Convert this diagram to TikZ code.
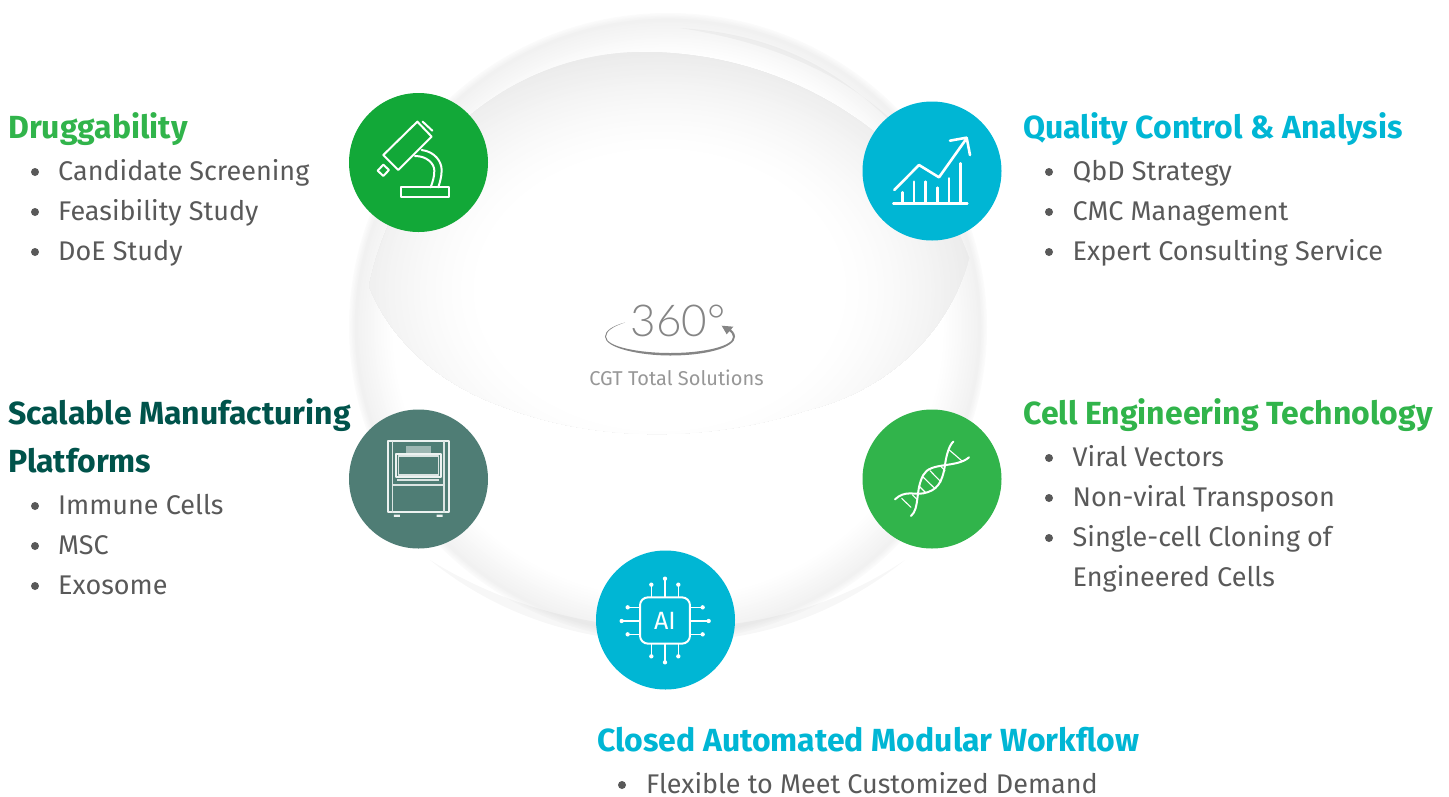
\documentclass[tikz,border=0pt]{standalone}
\usepackage{fontspec}
\setmainfont{Fira Sans}
\newfontfamily\thinfont{Lato Light}
\usetikzlibrary{calc}
\definecolor{grnA}{HTML}{12A838}
\definecolor{grnB}{HTML}{31B44B}
\definecolor{bluA}{HTML}{00B6D4}
\definecolor{tealA}{HTML}{4F7D75}
\definecolor{headT}{HTML}{00534B}
\definecolor{bodyT}{HTML}{595959}
\definecolor{grayT}{HTML}{858585}
\tikzset{
  iconcircle/.style={circle,minimum size=139pt,inner sep=0pt,draw=none},
  iconline/.style={draw=white,line width=2pt,line join=round,line cap=round},
  headtext/.style={anchor=base west,inner sep=0pt,font=\fontsize{32}{32}\selectfont\bfseries},
  itemtext/.style={anchor=base west,inner sep=0pt,text=bodyT,text depth=0pt,font=\fontsize{27}{27}\selectfont},
  dotmark/.style={fill=bodyT},
}
\begin{document}
\begin{tikzpicture}[x=1pt,y=-1pt]
\useasboundingbox (0,0) rectangle (1449,796);
% sphere rim: stacked ellipses from the edge inward
\foreach \tt in {0,...,30}{
  \pgfmathsetmacro{\rr}{1-\tt*0.0045}
  \pgfmathsetmacro{\dk}{\tt<4 ? 1.5+\tt*1.0 : max(0,5.5*(1-(\tt-4)/26))}
  \colorlet{rimcol}{black!\dk!white}
  \fill[rimcol] (668,327) ellipse ({319*\rr} and {314*\rr});
}
\fill[white] (668,327) ellipse ({319*.86} and {314*.86});
% lens
\begin{scope}
\clip (369,286) .. controls (400,140) and (520,52) .. (643,52)
   .. controls (800,52) and (930,150) .. (969,258)
   .. controls (950,330) and (890,390) .. (808,410)
   .. controls (700,445) and (590,440) .. (504,407)
   .. controls (440,385) and (390,340) .. (369,286) -- cycle;
\fill[black!8!white] (340,40) rectangle (1000,500);
\foreach \tt in {0,...,44}{
  \pgfmathsetmacro{\rr}{1-\tt*0.01}
  \pgfmathsetmacro{\dk}{8*(1-\tt/44)^1.5}
  \colorlet{lenscol}{black!\dk!white}
  \fill[lenscol] (660,290) ellipse ({316*\rr} and {240*\rr});
}
\end{scope}
\fill[black,opacity=.03] (680,28) .. controls (790,35) and (860,80) .. (930,165)
  .. controls (880,90) and (790,45) .. (680,28) -- cycle;
\fill[black,opacity=.03] (430,560) .. controls (510,625) and (600,642) .. (668,642)
  .. controls (750,642) and (830,620) .. (905,560)
  .. controls (830,610) and (750,628) .. (668,628)
  .. controls (600,628) and (510,610) .. (430,560) -- cycle;
% circles
\node[iconcircle,fill=grnA] (drug) at (418.5,162.5) {};
\node[iconcircle,fill=bluA] (qual) at (932,171) {};
\node[iconcircle,fill=tealA] (manu) at (418.5,479) {};
\node[iconcircle,fill=grnB] (cell) at (932,479) {};
\node[iconcircle,fill=bluA] (auto) at (665.5,620) {};
% microscope
\begin{scope}[shift={(340,80)},x=.3333pt,y=-.3333pt]
\draw[iconline] (232,125) -- (275,170) -- (175,270) -- (130,225) -- cycle;
\draw[iconline] (113,272) -- (130,254) -- (147,270) -- (130,288) -- cycle;
\draw[iconline] (248,125) -- (277,152);
\draw[iconline] (245,210) .. controls (285,215) and (305,245) .. (305,270) .. controls (305,290) and (300,305) .. (295,322);
\draw[iconline] (225,228) .. controls (260,228) and (283,250) .. (283,272) .. controls (283,292) and (278,305) .. (272,322);
\draw[iconline] (183,322) rectangle (328,352);
\end{scope}
% chart
\begin{scope}[shift={(855,95)},x=.3333pt,y=-.3333pt]
\tikzset{chartline/.style={draw=white,line width=2.6pt,line join=round,line cap=round}}
\draw[chartline] (115,325) -- (337,325);
\foreach \bx/\by in {143/292,177/260,212/260,247/278,282/250,317/205}{\draw[chartline] (\bx,325) -- (\bx,\by);}
\draw[chartline] (118,285) -- (192,210) -- (252,247) -- (335,130);
\draw[chartline] (285,137) -- (335,128) -- (345,180);
\end{scope}
% machine
\begin{scope}[shift={(340,400)},x=.3333pt,y=-.3333pt]
\draw[iconline,white!90!tealA] (143,124) rectangle (327,337);
\draw[iconline,line width=1.2pt,white!80!tealA] (158,124) -- (158,337) (312,124) -- (312,337) (158,255) -- (312,255);
\fill[white,opacity=.45] (198,138) rectangle (272,158);
\draw[iconline,white!90!tealA] (168,162) rectangle (302,230);
\draw[iconline,line width=1.2pt,white!80!tealA] (176,168) rectangle (296,225);
\fill[white,opacity=.8] (170,237) rectangle (298,244);
\fill[white,opacity=.9] (162,344) rectangle (180,351) (290,344) rectangle (308,351);
\end{scope}
% dna
\begin{scope}[shift={(855,400)},x=.3333pt,y=-.3333pt]
\draw[iconline] (120,298) .. controls (150,270) and (175,285) .. (205,280) .. controls (245,272) and (262,250) .. (270,195) .. controls (274,165) and (283,135) .. (295,125);
\draw[iconline] (168,348) .. controls (195,325) and (180,270) .. (205,225) .. controls (225,185) and (305,205) .. (342,172);
\draw[iconline,line width=1.1pt] (140,295) -- (168,322) (172,284) -- (186,298) (192,258) -- (212,278) (205,232) -- (240,266) (225,212) -- (258,246) (255,197) -- (270,212) (283,150) -- (320,182);
\end{scope}
% ai
\begin{scope}[shift={(590,545)},x=.3333pt,y=-.3333pt]
\draw[iconline,rounded corners=8pt] (150,157) rectangle (300,296);
\foreach \px/\py/\qy in {184/119/157,225/101/157,265/119/157,184/334/296,225/352/296,265/334/296}{
  \draw[iconline,line width=1.3pt] (\px,\py) -- (\px,\qy); \fill[white] (\px,\py) circle (6.5);}
\foreach \py/\px/\qx in {187/113/150,228/95/150,268/113/150,187/338/300,228/356/300,268/338/300}{
  \draw[iconline,line width=1.3pt] (\px,\py) -- (\qx,\py); \fill[white] (\px,\py) circle (6.5);}
\node[text=white,inner sep=0pt,font=\fontsize{25}{25}\selectfont] (aitxt) at (225,227) {AI};
\end{scope}
% 360
\node[anchor=base,inner sep=0pt,text=grayT,font=\fontsize{44}{44}\thinfont] (deg) at (678,336) {360°};
\fill[grayT] (625,322.5) .. controls (612,326) and (605,331) .. (605,336.7)
  .. controls (605,348) and (640,355.5) .. (670,355.5)
  .. controls (705,355.5) and (735,348) .. (735,336.5)
  .. controls (735,333) and (732,330) .. (728,327)
  -- (727,330) .. controls (732,332) and (733,335) .. (733,337)
  .. controls (733,346) and (705,353) .. (670,353)
  .. controls (640,353) and (606,347) .. (606,336.7)
  .. controls (606,331) and (613,326.5) .. (625,322.5) -- cycle;
\fill[grayT] (721.7,325.7) -- (733.3,326.7) -- (726.7,334.3) -- cycle;
\node[anchor=base,inner sep=0pt,text=grayT!85!white,font=\fontsize{20}{20}\selectfont] (cgt) at (676.5,385.5) {CGT Total Solutions};
% text
\node[headtext,text=grnB] (h1) at (8,138) {Druggability};
\node[itemtext] (i11) at (58,180) {Candidate Screening};
\node[itemtext] (i12) at (58,220) {Feasibility Study};
\node[itemtext] (i13) at (58,260) {DoE Study};
\node[headtext,text=bluA] (h2) at (1023,138) {Quality Control \& Analysis};
\node[itemtext] (i21) at (1072.5,180) {QbD Strategy};
\node[itemtext] (i22) at (1072.5,220) {CMC Management};
\node[itemtext] (i23) at (1072.5,260) {Expert Consulting Service};
\node[headtext,text=headT] (h3) at (8,424) {Scalable Manufacturing};
\node[headtext,text=headT] (h3b) at (8,472) {Platforms};
\node[itemtext] (i31) at (58,514) {Immune Cells};
\node[itemtext] (i32) at (58,554) {MSC};
\node[itemtext] (i33) at (58,594) {Exosome};
\node[headtext,text=grnB] (h4) at (1023,424) {Cell Engineering Technology};
\node[itemtext] (i41) at (1072.5,466) {Viral Vectors};
\node[itemtext] (i42) at (1072.5,506) {Non-viral Transposon};
\node[itemtext] (i43) at (1072.5,546) {Single-cell Cloning of};
\node[itemtext] (i43b) at (1072.5,586) {Engineered Cells};
\node[headtext,text=bluA] (h5) at (597,751) {Closed Automated Modular Workflow};
\node[itemtext] (i51) at (646,793) {Flexible to Meet Customized Demand};
\foreach \dx/\dy in {35/172,35/212,35/252,1049/172,1049/212,1049/252,35/506,35/546,35/586,1049/458,1049/498,1049/538,622/785}{
  \fill[dotmark] (\dx,\dy) circle (4);}
\end{tikzpicture}
\end{document}
